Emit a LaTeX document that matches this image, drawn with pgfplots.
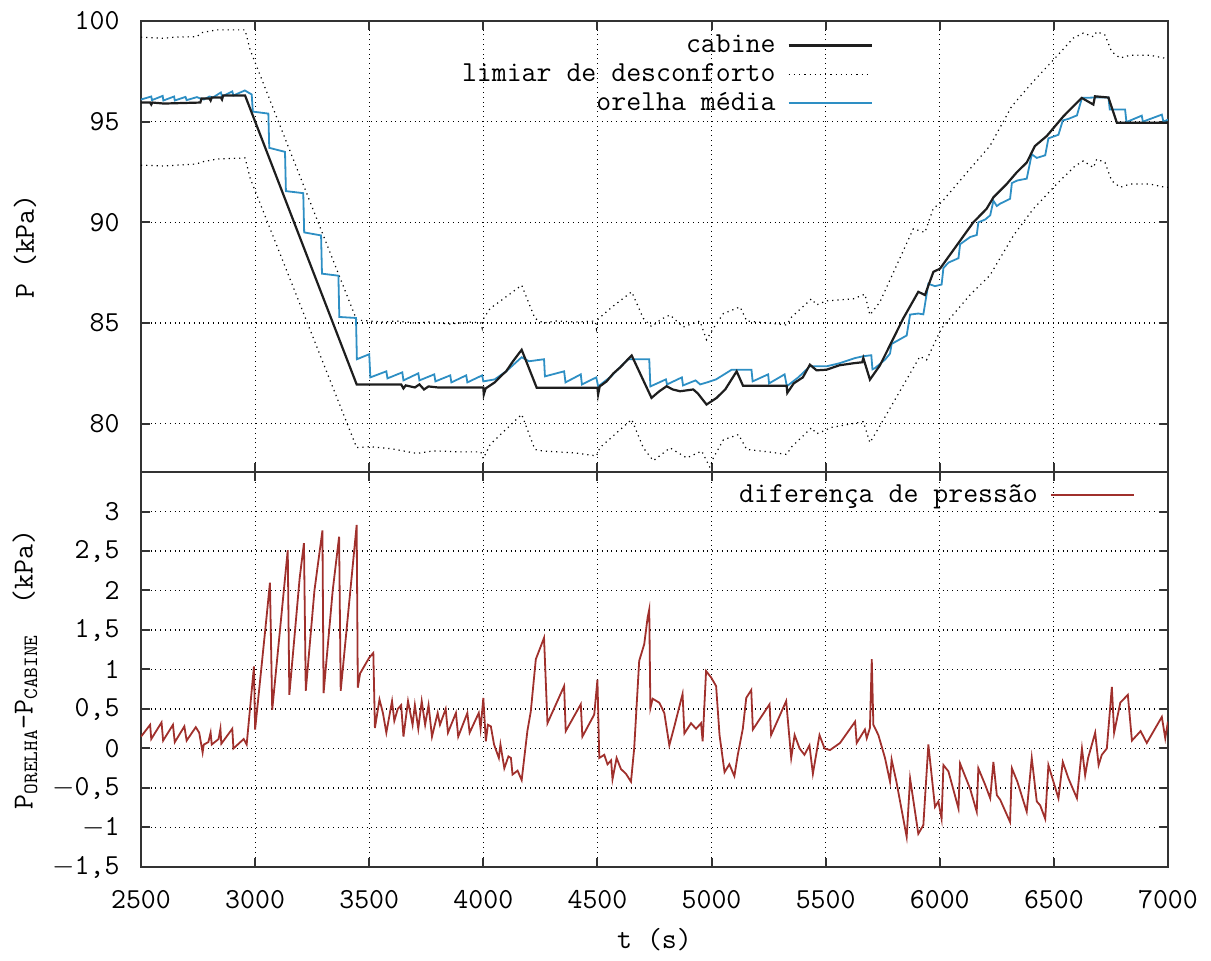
\documentclass[border=0pt]{standalone}
\usepackage{pgfplots}
\pgfplotsset{compat=1.18}
\renewcommand{\familydefault}{\ttdefault}
\definecolor{orelha}{HTML}{2E8FC4}
\definecolor{difcol}{HTML}{A0302C}
\definecolor{cab}{HTML}{1E1E1E}

\pgfplotsset{
  painel/.style={
    width=513.5pt, scale only axis,
    xmin=2500, xmax=7000,
    xtick={2500,3000,...,7000},
    tick align=inside,
    major tick length=4.5pt,
    grid=major,
    major grid style={dotted, line width=0.6pt, black},
    axis line style={line width=1.2pt, black!80},
    every tick/.style={line width=1pt, black!80},
    /pgf/number format/assume math mode=true,
    /pgf/number format/1000 sep={},
    yticklabel style={xshift=-5.7pt},
    xticklabel style={yshift=-6.7pt},
    legend plot pos=right,
    legend image code/.code={\draw[#1] (0pt,0pt) -- (41.5pt,0pt);},
    legend style={draw=none, fill=none, anchor=north east, inner sep=0pt,
      column sep=6pt, row sep=3.5pt,
      nodes={inner sep=0pt, text height=9pt, text depth=2pt}},
    legend cell align=right,
  }
}

\begin{document}
\fontsize{14.5}{16}\selectfont
\begin{tikzpicture}
\begin{axis}[painel, name=top, at={(0,0)}, anchor=north west,
  height=225.5pt,
  ymin=77.6, ymax=100,
  ytick={80,85,90,95,100},
  xticklabels={},
  ylabel={P (kPa)},
  ylabel style={at={(axis description cs:-0.113,0.5)}, anchor=center},
  legend style={at={(0.713,0.971)}},
]
\addlegendimage{color=cab, line width=1.1pt}
\addlegendentry{cabine}
\addlegendimage{color=black, dotted, line width=0.6pt}
\addlegendentry{limiar de desconforto}
\addlegendimage{color=orelha, line width=1pt}
\addlegendentry{orelha média}

% limiar de desconforto (superior)
\addplot[black, dotted, line width=0.6pt, forget plot] coordinates {
(2500,99.2)(2598,99.14)(2650,99.2)(2744,99.22)(2766,99.42)(2832,99.56)(2956,99.56)
(2978,98.57)(3445,85.15)(3500,85.1)(3560,85.05)(3620,85.1)(3700,85.0)(3760,85.05)
(3850,84.95)(3950,85.05)(3990,85.0)(3995,84.75)(4000,85.2)(4030,85.73)(4070,86.05)
(4168,86.88)(4226,85.23)(4263,85.0)(4320,85.1)(4400,85.05)(4490,85.1)(4496,84.7)
(4503,85.2)(4569,85.84)(4650,86.55)(4701,85.23)(4737,84.82)(4781,85.2)(4818,85.4)
(4876,84.8)(4949,85.1)(4978,84.17)(5008,84.74)(5052,85.47)(5125,85.8)(5154,85.1)
(5250,85.0)(5329,84.9)(5351,85.3)(5438,86.2)(5460,85.9)(5504,86.1)(5621,86.2)
(5672,86.43)(5694,85.4)(5738,86.05)(5884,89.68)(5935,89.5)(5972,90.7)(6008,91.0)
(6132,92.65)(6220,93.8)(6315,95.76)(6410,97.0)(6512,98.24)(6585,99.15)(6629,99.4)
(6673,99.22)(6688,99.47)(6724,99.3)(6753,98.48)(6790,98.16)(6834,98.3)(6921,98.3)
(6987,98.15)(7000,98.15)
};
% limiar de desconforto (inferior)
\addplot[black, dotted, line width=0.6pt, forget plot] coordinates {
(2500,92.84)(2600,92.8)(2744,92.9)(2766,93.0)(2832,93.14)(2956,93.2)(2978,92.2)
(3445,78.81)(3503,78.86)(3600,78.75)(3709,78.52)(3780,78.65)(3900,78.6)(3989,78.6)
(4000,78.27)(4030,78.97)(4168,80.46)(4226,78.72)(4263,78.64)(4400,78.55)(4496,78.4)
(4510,78.8)(4650,80.21)(4701,78.8)(4745,78.16)(4818,78.8)(4891,78.3)(4957,78.64)
(4993,77.82)(5008,78.3)(5052,79.2)(5118,79.46)(5154,78.72)(5250,78.6)(5329,78.47)
(5351,78.85)(5438,79.8)(5460,79.5)(5504,79.7)(5519,79.8)(5665,80.1)(5694,79.06)
(5738,79.9)(5913,83.34)(5942,83.17)(6008,84.74)(6132,86.39)(6220,87.37)(6323,89.35)
(6410,90.67)(6512,91.9)(6593,92.8)(6629,93.05)(6673,92.72)(6688,93.14)(6724,92.97)
(6753,92.07)(6790,91.74)(6834,91.9)(6921,91.9)(6987,91.74)(7000,91.74)
};
% orelha media
\addplot[orelha, line width=0.9pt, forget plot] coordinates {
(2500,96.1)(2545,96.25)(2548,96.07)(2595,96.28)(2598,96.05)(2645,96.25)(2648,96.05)
(2695,96.23)(2700,96.07)(2745,96.22)(2760,96.15)(2775,96.1)(2800,96.25)(2815,96.2)
(2850,96.45)(2855,96.25)(2900,96.5)(2905,96.3)(2955,96.55)(2985,96.35)(2990,95.5)
(3058,95.4)(3062,93.7)(3131,93.5)(3135,91.55)(3211,91.45)(3215,89.5)(3289,89.35)
(3293,87.45)(3365,87.35)(3369,85.3)(3442,85.25)(3446,83.2)(3500,83.45)(3505,82.3)
(3575,82.6)(3580,82.25)(3645,82.55)(3650,82.15)(3715,82.5)(3720,82.15)(3785,82.45)
(3790,82.1)(3855,82.4)(3860,82.05)(3925,82.4)(3930,82.05)(3995,82.4)(4000,82.1)
(4050,82.2)(4100,82.6)(4168,83.3)(4200,83.1)(4266,83.2)(4270,82.35)(4354,82.6)
(4360,82.05)(4427,82.45)(4432,81.95)(4495,82.3)(4503,81.85)(4560,82.35)(4634,83.2)
(4727,83.2)(4732,81.85)(4800,82.2)(4805,81.95)(4870,82.3)(4875,81.9)(4930,82.15)
(4950,81.95)(4980,82.05)(5020,82.2)(5088,82.68)(5175,82.68)(5180,82.1)(5248,82.45)
(5252,82.0)(5320,82.45)(5330,81.86)(5380,82.3)(5431,82.85)(5504,82.85)(5560,83.0)
(5629,83.26)(5665,83.35)(5700,83.4)(5705,82.7)(5716,82.76)(5760,83.18)(5782,83.48)
(5789,83.96)(5855,84.38)(5870,85.42)(5906,85.47)(5928,85.43)(5950,86.95)(5979,86.83)
(6008,86.91)(6016,87.73)(6038,88.0)(6082,88.22)(6089,88.91)(6133,89.27)(6162,89.37)
(6169,90.0)(6199,90.14)(6221,90.35)(6235,91.07)(6250,90.81)(6265,90.93)(6308,91.17)
(6316,91.95)(6340,92.08)(6381,92.17)(6403,93.38)(6425,93.2)(6462,93.33)(6476,94.17)
(6520,94.35)(6539,95.06)(6564,95.14)(6601,95.31)(6623,96.18)(6680,96.2)(6739,96.2)
(6745,95.6)(6812,95.6)(6818,94.98)(6885,95.3)(6890,95.0)(6973,95.35)(6980,95.0)
(7000,95.1)
};
% cabine
\addplot[cab, line width=1.1pt, forget plot] coordinates {
(2500,95.95)(2540,95.95)(2545,95.85)(2550,95.95)(2600,95.9)(2760,95.95)(2765,96.15)
(2800,96.15)(2805,96.05)(2810,96.2)(2850,96.2)(2855,96.1)(2860,96.3)(2956,96.3)
(3445,81.95)(3640,81.95)(3650,81.75)(3660,81.9)(3700,81.8)(3720,81.95)(3740,81.7)
(3760,81.85)(3800,81.8)(3840,81.8)(4000,81.8)(4002,81.45)(4010,81.75)(4050,82.05)
(4080,82.4)(4100,82.6)(4130,83.1)(4168,83.67)(4234,81.78)(4500,81.78)(4503,81.45)
(4510,81.85)(4540,82.1)(4570,82.5)(4600,82.8)(4650,83.39)(4737,81.28)(4770,81.6)
(4803,81.86)(4830,81.7)(4862,81.61)(4920,81.7)(4940,81.5)(4978,80.95)(5022,81.28)
(5060,81.7)(5110,82.6)(5138,81.88)(5329,81.88)(5332,81.53)(5360,82.0)(5400,82.3)
(5431,82.93)(5460,82.65)(5504,82.68)(5560,82.9)(5621,83.0)(5660,83.05)(5665,83.26)
(5694,82.19)(5738,82.9)(5782,83.9)(5840,85.23)(5906,86.55)(5935,86.39)(5972,87.54)
(6001,87.7)(6074,88.85)(6147,90.0)(6205,90.67)(6235,91.24)(6293,91.9)(6337,92.48)
(6381,92.97)(6417,93.79)(6469,94.29)(6542,95.27)(6622,96.18)(6673,95.85)(6680,96.26)
(6739,96.2)(6776,94.95)(7000,94.95)
};
\end{axis}

\begin{axis}[painel, name=bot, at={(top.south west)}, anchor=north west,
  height=197.5pt,
  ymin=-1.5, ymax=3.5,
  ytick={-1.5,-1,-0.5,0,0.5,1,1.5,2,2.5,3},
  yticklabels={{$-$1,5},{$-$1},{$-$0,5},{0},{0,5},{1},{1,5},{2},{2,5},{3}},
  xlabel={t (s)},
  xlabel style={at={(axis description cs:0.5,-0.185)}, anchor=center},
  ylabel={P\textsubscript{ORELHA}-P\textsubscript{CABINE}\ \ (kPa)},
  ylabel style={at={(axis description cs:-0.113,0.5)}, anchor=center},
  legend style={at={(0.968,0.97)}},
]
\addplot[difcol, line width=0.9pt] coordinates {
(2500,0.15)(2540,0.3)(2545,0.12)(2590,0.33)(2597,0.1)(2640,0.3)(2648,0.08)(2690,0.28)
(2700,0.1)(2740,0.27)(2755,0.2)(2770,-0.05)(2775,0.05)(2795,0.08)(2805,0.2)(2810,0.05)
(2840,0.12)(2848,0.25)(2852,0.06)(2900,0.25)(2905,0.0)(2950,0.12)(2963,0.05)(2995,1.04)
(3000,0.24)(3050,1.66)(3065,2.1)(3075,0.49)(3143,2.51)(3150,0.68)(3195,2.15)(3214,2.6)
(3222,0.73)(3260,2.0)(3295,2.76)(3300,0.7)(3340,2.0)(3368,2.68)(3375,0.73)(3445,2.83)
(3450,0.77)(3460,0.95)(3500,1.15)(3518,1.21)(3525,0.26)(3545,0.62)(3560,0.45)(3575,0.2)
(3600,0.6)(3610,0.35)(3625,0.5)(3640,0.55)(3650,0.15)(3670,0.6)(3690,0.3)(3700,0.55)
(3715,0.25)(3730,0.6)(3745,0.3)(3760,0.55)(3775,0.15)(3800,0.45)(3810,0.3)(3835,0.5)
(3845,0.2)(3880,0.45)(3890,0.15)(3930,0.45)(3940,0.2)(3980,0.45)(3988,0.25)(4000,0.64)
(4011,0.09)(4020,0.3)(4033,0.28)(4047,0.05)(4068,-0.12)(4075,0.05)(4092,-0.25)(4110,-0.1)
(4121,-0.12)(4128,-0.33)(4150,-0.28)(4168,-0.4)(4193,0.22)(4208,0.47)(4230,1.13)(4266,1.4)
(4281,0.32)(4354,0.79)(4361,0.22)(4427,0.56)(4434,0.15)(4486,0.43)(4500,0.87)(4508,-0.12)
(4530,-0.08)(4544,-0.2)(4560,-0.15)(4566,-0.39)(4584,-0.12)(4603,-0.26)(4625,-0.32)
(4647,-0.42)(4661,0.0)(4683,1.11)(4705,1.32)(4720,1.66)(4727,1.76)(4732,0.51)(4742,0.63)
(4771,0.58)(4793,0.45)(4815,0.04)(4837,0.28)(4873,0.69)(4881,0.19)(4910,0.32)(4932,0.25)
(4954,0.32)(4961,0.09)(4976,0.98)(4998,0.9)(5020,0.79)(5035,0.17)(5057,-0.3)(5078,-0.2)
(5100,-0.35)(5115,-0.08)(5137,0.25)(5152,0.64)(5174,0.74)(5181,0.24)(5254,0.56)(5261,0.17)
(5327,0.6)(5349,-0.12)(5364,0.17)(5386,0.0)(5407,-0.08)(5429,0.04)(5444,-0.32)(5473,0.17)
(5495,0.0)(5519,-0.02)(5563,0.07)(5629,0.34)(5636,0.07)(5672,0.24)(5680,0.13)(5694,0.26)
(5702,1.13)(5709,0.3)(5731,0.17)(5760,-0.12)(5782,-0.42)(5789,-0.14)(5810,-0.42)
(5855,-1.12)(5870,-0.38)(5906,-1.08)(5928,-0.97)(5950,0.05)(5979,-0.74)(5994,-0.67)
(6008,-0.89)(6016,-0.21)(6038,-0.29)(6082,-0.76)(6089,-0.19)(6133,-0.51)(6162,-0.8)
(6169,-0.25)(6199,-0.46)(6221,-0.63)(6235,-0.17)(6250,-0.59)(6265,-0.65)(6308,-0.93)
(6316,-0.25)(6340,-0.42)(6381,-0.8)(6403,-0.12)(6425,-0.67)(6440,-0.72)(6462,-0.89)
(6476,-0.21)(6520,-0.63)(6539,-0.17)(6564,-0.38)(6601,-0.63)(6623,0.0)(6637,-0.34)
(6650,-0.12)(6681,0.2)(6696,-0.21)(6710,-0.08)(6732,0.0)(6754,0.78)(6764,0.2)(6791,0.58)
(6824,0.68)(6842,0.1)(6880,0.22)(6907,0.07)(6973,0.4)(6988,0.13)(7000,0.34)
};
\addlegendentry{diferença de pressão}
\end{axis}
\path (top.north west) +(-70.5pt,10.5pt) rectangle +(535pt,-465pt);
\end{tikzpicture}
\end{document}
